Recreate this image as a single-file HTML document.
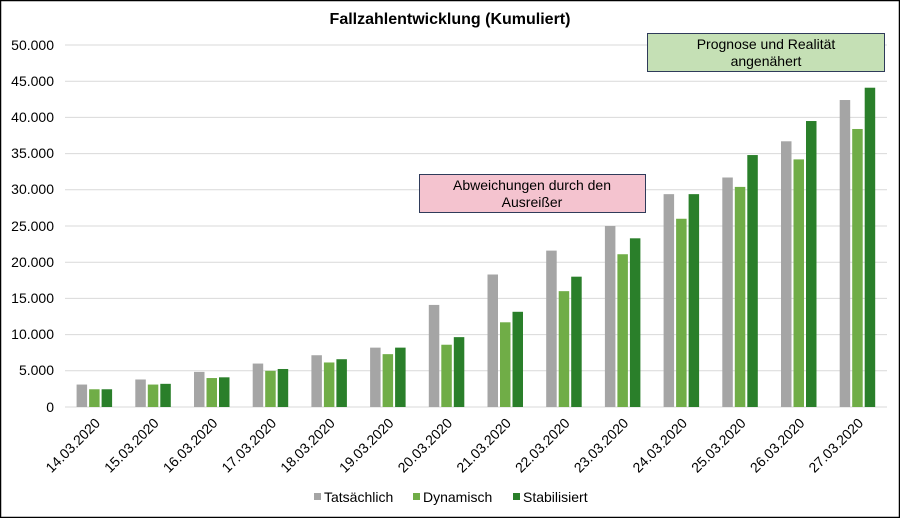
<!DOCTYPE html>
<html><head><meta charset="utf-8"><style>
html,body{margin:0;padding:0;background:#fff;}
svg{display:block;font-family:"Liberation Sans",Arial,sans-serif;}
</style></head><body>
<svg id="c" width="900" height="518" xmlns="http://www.w3.org/2000/svg">
<rect x="0.5" y="0.5" width="899" height="517" fill="#fff" stroke="#000" stroke-width="1.5"/>
<text x="450" y="24" text-anchor="middle" font-size="16" font-weight="bold" fill="#000">Fallzahlentwicklung (Kumuliert)</text>
<g stroke="#d9d9d9" stroke-width="1">
<line x1="65" x2="887" y1="45" y2="45"/><line x1="65" x2="887" y1="81.2" y2="81.2"/>
<line x1="65" x2="887" y1="117.4" y2="117.4"/><line x1="65" x2="887" y1="153.6" y2="153.6"/>
<line x1="65" x2="887" y1="189.8" y2="189.8"/><line x1="65" x2="887" y1="226" y2="226"/>
<line x1="65" x2="887" y1="262.2" y2="262.2"/><line x1="65" x2="887" y1="298.4" y2="298.4"/>
<line x1="65" x2="887" y1="334.6" y2="334.6"/><line x1="65" x2="887" y1="370.8" y2="370.8"/>
<line x1="65" x2="887" y1="407" y2="407"/>
</g>
<g font-size="14" fill="#000" text-anchor="end">
<text x="54" y="50">50.000</text><text x="54" y="86">45.000</text><text x="54" y="122">40.000</text>
<text x="54" y="158">35.000</text><text x="54" y="194">30.000</text><text x="54" y="231">25.000</text>
<text x="54" y="267">20.000</text><text x="54" y="303">15.000</text><text x="54" y="339">10.000</text>
<text x="54" y="375">5.000</text><text x="54" y="412">0</text>
</g>
<g id="bars"></g>
<g font-size="14" fill="#000" text-anchor="end">
<text transform="translate(101,424) rotate(-45)">14.03.2020</text>
<text transform="translate(159.7,424) rotate(-45)">15.03.2020</text>
<text transform="translate(218.4,424) rotate(-45)">16.03.2020</text>
<text transform="translate(277.1,424) rotate(-45)">17.03.2020</text>
<text transform="translate(335.8,424) rotate(-45)">18.03.2020</text>
<text transform="translate(394.5,424) rotate(-45)">19.03.2020</text>
<text transform="translate(453.2,424) rotate(-45)">20.03.2020</text>
<text transform="translate(511.9,424) rotate(-45)">21.03.2020</text>
<text transform="translate(570.6,424) rotate(-45)">22.03.2020</text>
<text transform="translate(629.3,424) rotate(-45)">23.03.2020</text>
<text transform="translate(688,424) rotate(-45)">24.03.2020</text>
<text transform="translate(746.7,424) rotate(-45)">25.03.2020</text>
<text transform="translate(805.4,424) rotate(-45)">26.03.2020</text>
<text transform="translate(864.1,424) rotate(-45)">27.03.2020</text>
</g>
<rect x="419.5" y="174.5" width="226" height="38" fill="#f4c3cf" stroke="#2f3b5a" stroke-width="1"/>
<text x="532" y="190" text-anchor="middle" font-size="14">Abweichungen durch den</text>
<text x="532" y="207" text-anchor="middle" font-size="14">Ausreißer</text>
<rect x="647.5" y="33.5" width="237" height="38" fill="#c5e0b5" stroke="#2f3b5a" stroke-width="1"/>
<text x="766" y="49" text-anchor="middle" font-size="14">Prognose und Realität</text>
<text x="766" y="66" text-anchor="middle" font-size="14">angenähert</text>
<g font-size="14" fill="#000">
<rect x="314" y="493" width="7" height="7" fill="#a5a5a5"/><text x="324" y="502">Tatsächlich</text>
<rect x="413" y="493" width="7" height="7" fill="#70ad47"/><text x="423" y="502">Dynamisch</text>
<rect x="513" y="493" width="7" height="7" fill="#2a7f2a"/><text x="523" y="502">Stabilisiert</text>
</g>
</svg>
<script>
var d=[[3100,2450,2450],[3800,3100,3200],[4850,4000,4100],[6000,5000,5250],[7150,6150,6600],[8200,7300,8200],[14100,8600,9650],[18300,11700,13150],[21600,16000,18000],[25000,21100,23300],[29400,26000,29400],[31700,30400,34800],[36700,34200,39500],[42400,38400,44100]];
var col=["#a5a5a5","#70ad47","#2a7f2a"],s="";
for(var i=0;i<14;i++){var gx=65+58.7*i+11.6;for(var j=0;j<3;j++){var h=d[i][j]*0.00724;s+='<rect x="'+(gx+j*12.5)+'" y="'+(407-h)+'" width="10.5" height="'+h+'" fill="'+col[j]+'"/>';}}
document.getElementById("bars").innerHTML=s;
</script>
</body></html>
